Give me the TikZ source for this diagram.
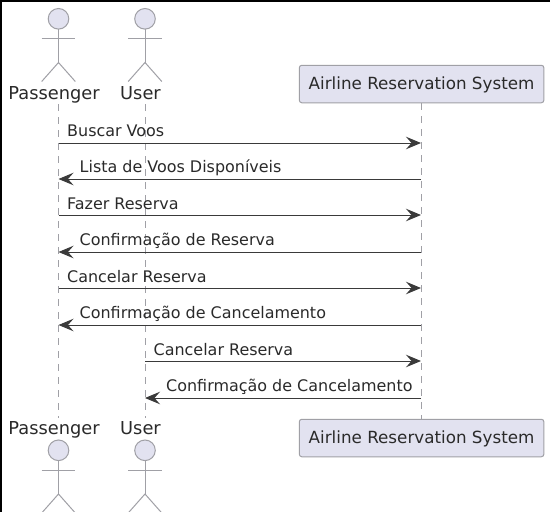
\documentclass[tikz,border=0pt]{standalone}
\usepackage{fontspec}
\setmainfont{DejaVu Sans}
\usetikzlibrary{arrows.meta}
\definecolor{umlfill}{HTML}{E2E2F0}
\definecolor{umlline}{HTML}{A0A0A6}
\definecolor{umltext}{HTML}{2A2A2A}
\definecolor{msgline}{HTML}{3A3A3A}
\tikzset{
 x=1pt,y=-1pt,
 lbl/.style={inner sep=0pt,text=umltext,font=\fontsize{15.95}{18}\selectfont,anchor=base west},
 actlbl/.style={inner sep=0pt,text=umltext,font=\fontsize{17.8}{20}\selectfont,anchor=base},
 sysbox/.style={draw=umlline,fill=umlfill,rounded corners=2.5pt,line width=1pt,minimum width=244.5pt,minimum height=37.5pt,inner sep=0pt,text=umltext,text height=12.7pt,text depth=2.1pt,font=\fontsize{16.75}{19}\selectfont},
 life/.style={draw=umlline,line width=1pt,dash pattern=on 6.5pt off 6.5pt},
 actline/.style={draw=umlline,line width=1pt},
 actfill/.style={draw=umlline,fill=umlfill,line width=1pt},
 msg/.style={draw=msgline,line width=1pt,-{Stealth[length=15pt,width=12.5pt,inset=5.5pt]},shorten >=0pt},
}
\newcommand{\stick}[2]{%
 \draw[actfill] (#1,#2+10.3) circle (10.3pt);
 \draw[actline] (#1,#2+20.6) -- (#1,#2+54);
 \draw[actline] (#1-16.8,#2+30) -- (#1+16.8,#2+30);
 \draw[actline] (#1-16.8,#2+73) -- (#1,#2+54) -- (#1+16.8,#2+73);
}
\begin{document}
\begin{tikzpicture}
\useasboundingbox (0,0) rectangle (550,512);
\fill[white] (0,0) rectangle (550,512);
\fill[black] (0,0) rectangle (550,2);
\fill[black] (0,0) rectangle (2,512);
% lifelines
\coordinate (pt) at (58.5,104); \coordinate (pb) at (58.5,418);
\coordinate (ut) at (145,104); \coordinate (ub) at (145,418);
\node[sysbox] (st) at (421.6,84) {Airline Reservation System};
\node[sysbox] (sb) at (421.6,438) {Airline Reservation System};
\draw[life] (pt) -- (pb);
\draw[life] (ut) -- (ub);
\draw[life] (st) -- (sb);
% actors
\stick{58.5}{8.5}
\stick{145}{8.5}
\stick{58.5}{440}
\stick{145}{440}
\node[actlbl] (pl1) at (54,99) {Passenger};
\node[actlbl] (ul1) at (140.5,99) {User};
\node[actlbl] (pl2) at (54,434) {Passenger};
\node[actlbl] (ul2) at (140.5,434) {User};
% messages
\foreach \n/\y in {1/143,2/179,3/215,4/252,5/288,6/325,7/361,8/398}{
 \coordinate (a\n) at (58.5,\y);
 \coordinate (u\n) at (145,\y);
 \coordinate (s\n) at (421,\y);
}
\draw[msg] (a1) -- (s1);
\draw[msg] (s2) -- (a2);
\draw[msg] (a3) -- (s3);
\draw[msg] (s4) -- (a4);
\draw[msg] (a5) -- (s5);
\draw[msg] (s6) -- (a6);
\draw[msg] (u7) -- (s7);
\draw[msg] (s8) -- (u8);
\node[lbl] (m1) at (67,136) {Buscar Voos};
\node[lbl] (m2) at (79.5,172.5) {Lista de Voos Disponíveis};
\node[lbl] (m3) at (67,209) {Fazer Reserva};
\node[lbl] (m4) at (79.5,245.5) {Confirmação de Reserva};
\node[lbl] (m5) at (67,282) {Cancelar Reserva};
\node[lbl] (m6) at (79.5,318) {Confirmação de Cancelamento};
\node[lbl] (m7) at (153.5,355) {Cancelar Reserva};
\node[lbl] (m8) at (166,391) {Confirmação de Cancelamento};
\end{tikzpicture}
\end{document}
